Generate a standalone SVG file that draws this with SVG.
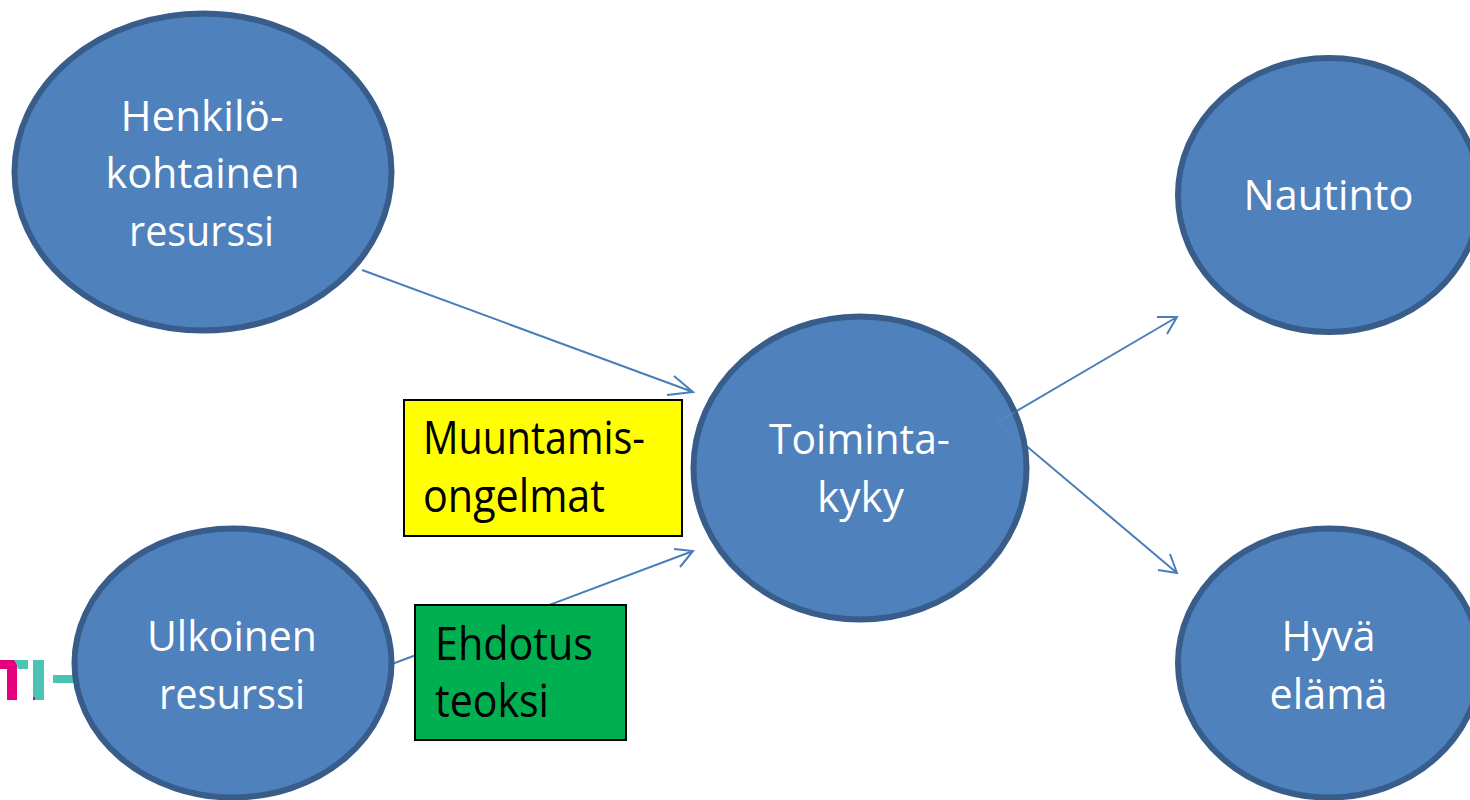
<svg xmlns="http://www.w3.org/2000/svg" width="1470" height="800" viewBox="0 0 1470 800">
<style>
.n{fill:#4f81bd;stroke:#385d8a;stroke-width:6}
.w{font-family:"Open Sans","Liberation Sans",sans-serif;font-size:42px;fill:#fff}
.b{font-family:"Open Sans","Liberation Sans",sans-serif;font-size:46px;fill:#000}
.c{fill:none;stroke:#4a7ebb;stroke-width:2}
</style>
<rect width="1470" height="800" fill="#fff"/>
<g id="logo">
<rect x="0" y="660" width="17" height="9" fill="#e6007e"/>
<rect x="7" y="660" width="10" height="40" fill="#e6007e"/>
<path d="M14 660H28V669H18Q17 664 14 660Z" fill="#4cc4b4"/>
<rect x="33" y="660" width="11" height="40" fill="#4cc4b4"/>
<rect x="33" y="697" width="2" height="3" fill="#b0207e"/>
<rect x="53" y="675" width="24" height="8" fill="#4cc4b4"/>
</g>
<g id="connectors">
<path class="c" d="M362 270L693 392M674 376L693 392L667 395"/>
<path class="c" d="M392 664L693 551M674 549L693 551L680 567"/>
<path class="c" d="M998 422L1177 317M1157 317L1177 317L1167 334"/>
<path class="c" d="M998 422L1177 573M1158 570L1177 573L1170 554"/>
</g>
<g id="n1"><ellipse class="n" cx="203" cy="172" rx="188.500" ry="158.500"/>
<text class="w" x="120.500" y="131" textLength="163" lengthAdjust="spacingAndGlyphs">Henkilö-</text><text class="w" x="105.500" y="188" textLength="194" lengthAdjust="spacingAndGlyphs">kohtainen</text><text class="w" x="129" y="246" textLength="145" lengthAdjust="spacingAndGlyphs">resurssi</text></g>
<g id="n2"><ellipse class="n" cx="233" cy="663" rx="158.500" ry="134.500"/>
<text class="w" x="147" y="651" textLength="170" lengthAdjust="spacingAndGlyphs">Ulkoinen</text><text class="w" x="159" y="709" textLength="146" lengthAdjust="spacingAndGlyphs">resurssi</text></g>
<g id="n3"><ellipse class="n" cx="860" cy="468" rx="166.500" ry="151.500"/>
<path d="M1015 412L998 422L1021 441" fill="none" stroke="#5b8bc6" stroke-width="1"/>
<text class="w" x="769" y="454" textLength="181" lengthAdjust="spacingAndGlyphs">Toiminta-</text><text class="w" x="817" y="512" textLength="87" lengthAdjust="spacingAndGlyphs">kyky</text></g>
<g id="n4"><ellipse class="n" cx="1329" cy="195" rx="151" ry="137"/>
<text class="w" x="1243.500" y="210" textLength="170" lengthAdjust="spacingAndGlyphs">Nautinto</text></g>
<g id="n5"><ellipse class="n" cx="1329" cy="663" rx="151" ry="134.500"/>
<text class="w" x="1281.500" y="651" textLength="94" lengthAdjust="spacingAndGlyphs">Hyvä</text><text class="w" x="1269.500" y="709" textLength="118" lengthAdjust="spacingAndGlyphs">elämä</text></g>
<g id="box1"><rect x="404" y="400" width="278" height="136" fill="#ff0" stroke="#000" stroke-width="2"/>
<text class="b" x="423" y="454" textLength="222" lengthAdjust="spacingAndGlyphs">Muuntamis-</text><text class="b" x="423" y="512" textLength="182" lengthAdjust="spacingAndGlyphs">ongelmat</text></g>
<g id="box2"><rect x="415" y="605" width="211" height="135" fill="#00b050" stroke="#000" stroke-width="2"/>
<text class="b" x="435" y="660" textLength="158" lengthAdjust="spacingAndGlyphs">Ehdotus</text><text class="b" x="435" y="717" textLength="114" lengthAdjust="spacingAndGlyphs">teoksi</text></g>
</svg>
